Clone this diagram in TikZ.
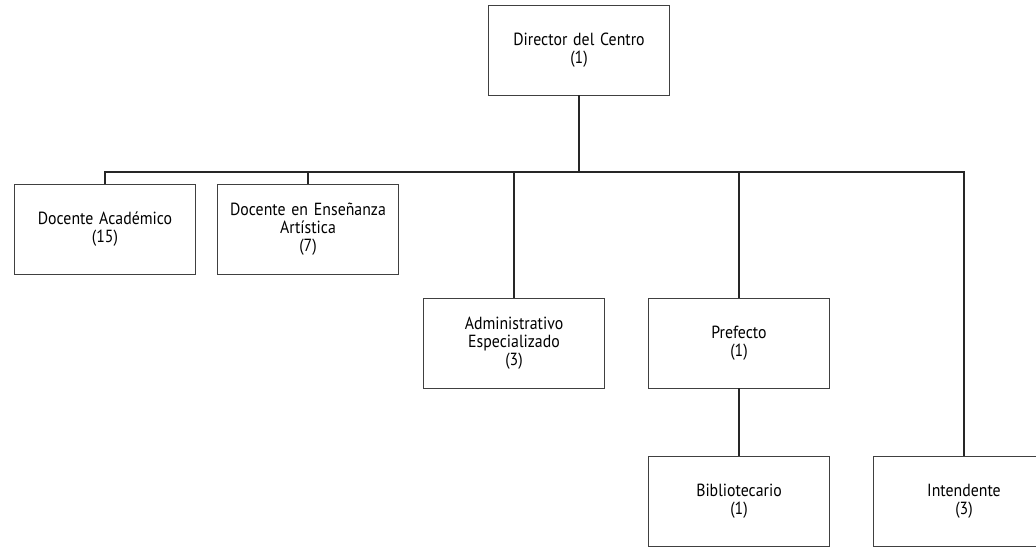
\documentclass[tikz,border=0pt]{standalone}
\usepackage{fontspec}
\setmainfont{PT Sans}[FakeStretch=0.9]
\usepackage{tikz}
\usetikzlibrary{positioning}

\begin{document}
\begin{tikzpicture}[x=0.02cm,y=-0.02cm,-,semithick,
    box/.style={draw=black!75,thin,rectangle,minimum width=3.62cm,minimum height=1.8cm,
      text width=3.5cm,align=center,inner sep=0pt,font=\fontsize{10}{10.2}\selectfont},
    link/.style={draw=black!85,line width=1.3pt}]
    \clip (0,0) rectangle (1036,547);
    \node[box] (A) at (579,50)  {Director del Centro\\ (1)};
    \node[box] (B) at (105,229) {Docente Acad\'emico\\ (15)};
    \node[box] (C) at (308,229) {Docente en Ense\~nanza\\ Art\'istica\\ (7)};
    \node[box] (D) at (514,343) {Administrativo\\ Especializado\\ (3)};
    \node[box] (E) at (739,343) {Prefecto\\ (1)};
    \node[box] (F) at (739,501) {Bibliotecario\\ (1)};
    \node[box] (G) at (964,501) {Intendente\\ (3)};
    % junction on the main line
    \coordinate (H) at (579,172);
    % main line and outer drops
    \draw[link] (B.north) |- (H) -| (G.north);
    % paths from the director and inner drops
    \path[link]
    (A) edge              node {} (H)
    (C.north) edge        node {} (C.north |- H)
    (D.north) edge        node {} (D.north |- H)
    (E.north) edge        node {} (E.north |- H)
    (E) edge              node {} (F);
\end{tikzpicture}
\end{document}
